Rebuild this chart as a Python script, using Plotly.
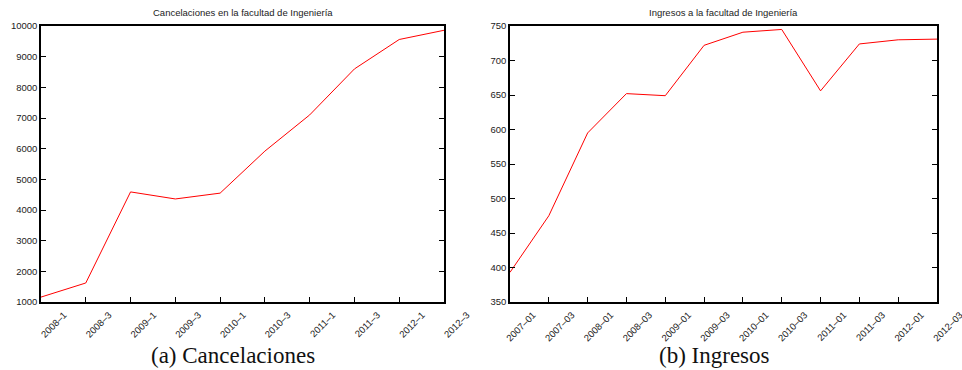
import plotly.graph_objects as go

canc_periods = ["2008–1", "2008–3", "2009–1", "2009–3", "2010–1", "2010–3",
                "2011–1", "2011–3", "2012–1", "2012–3"]
canc_values = [1160, 1620, 4590, 4360, 4550, 5920, 7100, 8600, 9560, 9860]

ing_periods = ["2007–01", "2007–03", "2008–01", "2008–03", "2009–01", "2009–03",
               "2010–01", "2010–03", "2011–01", "2011–03", "2012–01", "2012–03"]
ing_values = [393, 475, 595, 652, 649, 722, 741, 745, 656, 724, 730, 731]

titles = ["Cancelaciones en la facultad de Ingeniería", "Ingresos a la facultad de Ingeniería"]
captions = ["(a) Cancelaciones", "(b) Ingresos"]

W, H = 962, 370
top_px, bot_px = 26, 302
ydom = [1 - bot_px / H, 1 - top_px / H]
left_dom = [41 / W, 444 / W]
right_dom = [510 / W, 937 / W]

fig = go.Figure()
fig.add_trace(go.Scatter(x=canc_periods, y=canc_values, mode="lines",
                         line=dict(color="#ff0000", width=1), xaxis="x", yaxis="y",
                         showlegend=False))
fig.add_trace(go.Scatter(x=ing_periods, y=ing_values, mode="lines",
                         line=dict(color="#ff0000", width=1), xaxis="x2", yaxis="y2",
                         showlegend=False))

tickfont = dict(family="Liberation Sans, Arial, sans-serif", size=9.5, color="#222222")
common_x = dict(type="category", showgrid=False, zeroline=False, showline=True,
                linecolor="black", linewidth=1.5, mirror=True, ticks="inside",
                ticklen=5, tickcolor="black", tickangle=-45, tickfont=tickfont,
                ticklabelshift=23, ticklabelstandoff=2, automargin=False)
common_y = dict(showgrid=False, zeroline=False, showline=True, linecolor="black",
                linewidth=1.5, mirror="ticks", ticks="inside", ticklen=5,
                tickcolor="black", tickfont=tickfont, tickformat="d", automargin=False)

fig.update_layout(
    width=W, height=H, margin=dict(l=0, r=0, t=0, b=0),
    paper_bgcolor="white", plot_bgcolor="white",
    xaxis=dict(domain=left_dom, anchor="y", range=[0, len(canc_periods) - 1],
               tickmode="array", tickvals=canc_periods, ticktext=canc_periods, **common_x),
    yaxis=dict(domain=ydom, anchor="x", range=[1000, 10000], dtick=1000, **common_y),
    xaxis2=dict(domain=right_dom, anchor="y2", range=[0, len(ing_periods) - 1],
                tickmode="array", tickvals=ing_periods, ticktext=ing_periods, **common_x),
    yaxis2=dict(domain=ydom, anchor="x2", range=[350, 750], dtick=50, **common_y),
)

centers = [(left_dom[0] + left_dom[1]) / 2, (right_dom[0] + right_dom[1]) / 2]
for c, t in zip(centers, titles):
    fig.add_annotation(x=c, y=1 - 12 / H, xref="paper", yref="paper", text=t,
                       showarrow=False, xanchor="center", yanchor="middle",
                       font=dict(family="Liberation Sans, Arial, sans-serif", size=9.5,
                                 color="#222222"))
cap_x = [233 / W, 714 / W]
for c, t in zip(cap_x, captions):
    fig.add_annotation(x=c, y=1 - 355 / H, xref="paper", yref="paper", text=t,
                       showarrow=False, xanchor="center", yanchor="middle",
                       font=dict(family="Liberation Serif, DejaVu Serif, serif", size=23,
                                 color="#111111"))

fig.write_html("out.html")
